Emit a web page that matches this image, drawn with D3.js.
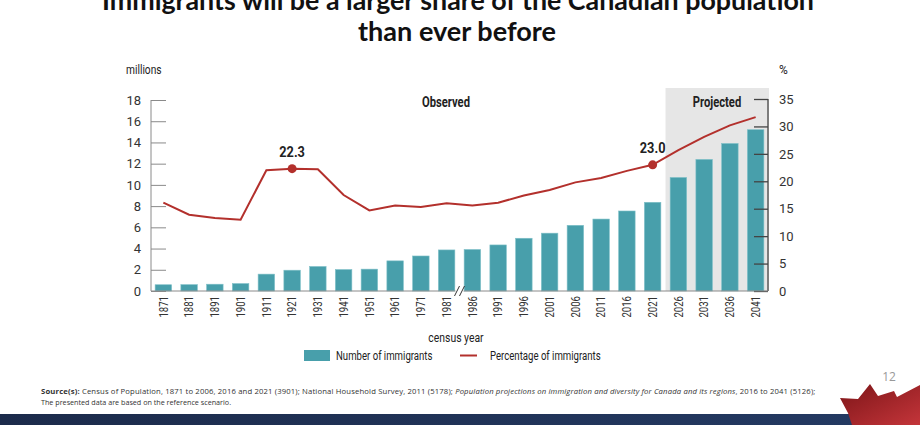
<!DOCTYPE html>
<html>
<head>
<meta charset="utf-8">
<script src="https://cdn.jsdelivr.net/npm/d3@7"></script>
<style>
  body { margin: 0; background: #fff; }
  svg { display: block; }
  .cond { font-family: "Roboto", "Liberation Sans", sans-serif; }
</style>
</head>
<body>
<svg id="chart" width="920" height="425"></svg>
<script>
// census years, immigrants (millions) and share of population (%)
const years = ["1871","1881","1891","1901","1911","1921","1931","1941","1951","1961","1971","1981",
               "1986","1991","1996","2001","2006","2011","2016","2021","2026","2031","2036","2041"];
const immigrants = [0.59, 0.60, 0.64, 0.70, 1.59, 1.96, 2.31, 2.02, 2.06, 2.84, 3.30, 3.87,
                    3.91, 4.34, 4.97, 5.45, 6.19, 6.78, 7.54, 8.36, 10.7, 12.4, 13.9, 15.2];
const percent = [16.1, 13.9, 13.3, 13.0, 22.0, 22.3, 22.2, 17.5, 14.7, 15.6, 15.3, 16.0,
                 15.6, 16.1, 17.4, 18.4, 19.8, 20.6, 21.9, 23.0, 25.7, 28.1, 30.2, 31.7];
const leftTicks = [0, 2, 4, 6, 8, 10, 12, 14, 16, 18];
const rightTicks = [0, 5, 10, 15, 20, 25, 30, 35];
const callouts = ["1921", "2021"];
const firstProjected = "2026";

const svg = d3.select("#chart");
const defs = svg.append("defs");
const teal = "#489fab", red = "#b3302c";

// squeeze text horizontally to mimic the condensed font of the original
function condense(sel, f) {
    sel.each(function() {
        const w = this.getComputedTextLength();
        d3.select(this).attr("textLength", w * f).attr("lengthAdjust", "spacingAndGlyphs");
    });
}

// Title
const title = svg.append("g")
    .attr("font-family", "Lato, 'Open Sans', sans-serif")
    .attr("font-weight", "bold")
    .attr("font-size", 27)
    .attr("fill", "#111")
    .attr("text-anchor", "middle");
title.append("text").attr("x", 458).attr("y", 10)
    .attr("textLength", 712).attr("lengthAdjust", "spacingAndGlyphs")
    .text("Immigrants will be a larger share of the Canadian population");
title.append("text").attr("x", 457).attr("y", 41)
    .attr("textLength", 198).attr("lengthAdjust", "spacingAndGlyphs")
    .text("than ever before");

// Scales
const x = d3.scaleBand().domain(years).range([151, 768]).paddingInner(0.36).paddingOuter(0.16);
const yL = d3.scaleLinear().domain([0, 18]).range([291, 100]);
const yR = d3.scaleLinear().domain([0, 35]).range([291, 99]);

// Projected shading
const projX = x(firstProjected) - x.step() * x.paddingInner() / 2;
svg.append("rect")
    .attr("x", projX).attr("y", 88)
    .attr("width", 769 - projX).attr("height", 291 - 88)
    .attr("fill", "#e6e6e6");

// Bars
svg.selectAll(".bar")
    .data(years)
    .enter()
        .append("rect")
        .attr("class", "bar")
        .attr("x", d => x(d))
        .attr("y", (d, i) => yL(immigrants[i]))
        .attr("width", x.bandwidth())
        .attr("height", (d, i) => yL(0) - yL(immigrants[i]))
        .attr("fill", teal)
        .attr("stroke", "#7fc0c8")
        .attr("stroke-width", 0.6);

// Left axis
const leftAxis = svg.append("g")
    .attr("class", "cond")
    .attr("transform", "translate(151,0)")
    .call(d3.axisLeft(yL).tickValues(leftTicks).tickSize(-15).tickPadding(10));
leftAxis.selectAll("line").attr("stroke", "#8a8a8a");
leftAxis.select(".domain").attr("stroke", "#8a8a8a").attr("d", "M0,100V291");
leftAxis.selectAll("text").attr("font-size", 13).attr("fill", "#333").attr("font-family", null);

// Right axis
const rightAxis = svg.append("g")
    .attr("class", "cond")
    .attr("transform", "translate(768,0)")
    .call(d3.axisRight(yR).tickValues(rightTicks).tickSize(-14).tickPadding(11));
rightAxis.selectAll("line").attr("stroke", "#444").attr("stroke-width", 1.3);
rightAxis.select(".domain").attr("stroke", "#444").attr("stroke-width", 1.3).attr("d", "M0,99V291");
rightAxis.selectAll("text").attr("font-size", 13).attr("fill", "#333").attr("font-family", null);

// X axis
const xAxis = svg.append("g")
    .attr("class", "cond")
    .attr("transform", "translate(0,291)")
    .call(d3.axisBottom(x).tickSize(0).tickPadding(0));
xAxis.select(".domain").attr("stroke", "#8a8a8a").attr("d", "M151,0H768");
xAxis.selectAll("text")
    .attr("font-family", null)
    .attr("font-size", 12)
    .attr("fill", "#333")
    .attr("transform", "rotate(-90)")
    .attr("text-anchor", "end")
    .attr("x", -5)
    .attr("y", 0)
    .attr("dy", "0.35em")
    .call(condense, 0.8);

// Axis break between 1981 and 1986
const brk = x("1986") - x.step() * x.paddingInner() / 2;
svg.append("rect").attr("x", brk - 4).attr("y", 287).attr("width", 8).attr("height", 8).attr("fill", "#fff");
[-2.5, 2.5].forEach(o => {
    svg.append("line")
        .attr("x1", brk + o - 2.5).attr("y1", 296)
        .attr("x2", brk + o + 2.5).attr("y2", 286)
        .attr("stroke", "#333").attr("stroke-width", 1);
});

// Percentage line
const line = d3.line()
    .x((d, i) => x(years[i]) + x.bandwidth() / 2)
    .y(d => yR(d));
svg.append("path")
    .datum(percent)
    .attr("d", line)
    .attr("fill", "none")
    .attr("stroke", red)
    .attr("stroke-width", 2);

// Callouts
callouts.forEach(c => {
    const i = years.indexOf(c);
    const cx = x(c) + x.bandwidth() / 2;
    svg.append("circle").attr("cx", cx).attr("cy", yR(percent[i])).attr("r", 4.5).attr("fill", red);
    svg.append("text")
        .attr("class", "cond")
        .attr("x", cx).attr("y", yR(percent[i]) - 12)
        .attr("text-anchor", "middle")
        .attr("font-size", 15).attr("font-weight", "bold").attr("fill", "#222")
        .text(percent[i].toFixed(1))
        .call(condense, 0.85);
});

// Section labels and unit labels
const labels = svg.append("g").attr("class", "cond").attr("fill", "#222");
labels.append("text").attr("x", 446).attr("y", 107).attr("text-anchor", "middle")
    .attr("font-size", 14).attr("font-weight", "bold").text("Observed").call(condense, 0.8);
labels.append("text").attr("x", 717).attr("y", 107).attr("text-anchor", "middle")
    .attr("font-size", 14).attr("font-weight", "bold").text("Projected").call(condense, 0.8);
labels.append("text").attr("x", 126).attr("y", 74).attr("font-size", 12).text("millions").call(condense, 0.85);
labels.append("text").attr("x", 779).attr("y", 74).attr("font-size", 12).text("%");
labels.append("text").attr("x", 456).attr("y", 342).attr("text-anchor", "middle")
    .attr("font-size", 13).text("census year").call(condense, 0.8);

// Legend
const legend = svg.append("g").attr("class", "cond").attr("font-size", 12).attr("fill", "#222");
legend.append("rect").attr("x", 304).attr("y", 350).attr("width", 26).attr("height", 11).attr("fill", teal);
legend.append("text").attr("x", 336).attr("y", 360).text("Number of immigrants").call(condense, 0.8);
legend.append("line").attr("x1", 460).attr("x2", 477).attr("y1", 355.5).attr("y2", 355.5)
    .attr("stroke", red).attr("stroke-width", 2);
legend.append("text").attr("x", 490).attr("y", 360).text("Percentage of immigrants").call(condense, 0.8);

// Slide footer
const grad = defs.append("linearGradient").attr("id", "navy");
grad.append("stop").attr("offset", "0%").attr("stop-color", "#1c2b4b");
grad.append("stop").attr("offset", "100%").attr("stop-color", "#243a63");
svg.append("rect").attr("x", 0).attr("y", 414).attr("width", 920).attr("height", 11).attr("fill", "url(#navy)");

const leafGrad = defs.append("linearGradient").attr("id", "leaf")
    .attr("x1", "0%").attr("y1", "0%").attr("x2", "100%").attr("y2", "100%");
leafGrad.append("stop").attr("offset", "0%").attr("stop-color", "#7d1518");
leafGrad.append("stop").attr("offset", "100%").attr("stop-color", "#c4353a");
svg.append("path")
    .attr("d", "M840,398 L858,399 L870,384 L878,396 L894,391 L897,397 L920,385 L920,425 L852,425 L848,413 Z")
    .attr("fill", "url(#leaf)");
svg.append("text").attr("x", 889).attr("y", 381).attr("text-anchor", "middle")
    .attr("font-family", "'Open Sans', sans-serif").attr("font-size", 12).attr("fill", "#999").text("12");

// Source note
const src = svg.append("g").attr("font-family", "'Open Sans', sans-serif").attr("font-size", 7.2).attr("fill", "#333");
const s1 = src.append("text").attr("x", 41).attr("y", 394)
    .attr("font-size", 7.7).attr("letter-spacing", 0.15);
s1.append("tspan").attr("font-weight", "bold").text("Source(s):");
s1.append("tspan").text(" Census of Population, 1871 to 2006, 2016 and 2021 (3901); National Household Survey, 2011 (5178); ");
s1.append("tspan").attr("font-style", "italic").text("Population projections on immigration and diversity for Canada and its regions");
s1.append("tspan").text(", 2016 to 2041 (5126);");
src.append("text").attr("x", 41).attr("y", 405).text("The presented data are based on the reference scenario.");
</script>
</body>
</html>
